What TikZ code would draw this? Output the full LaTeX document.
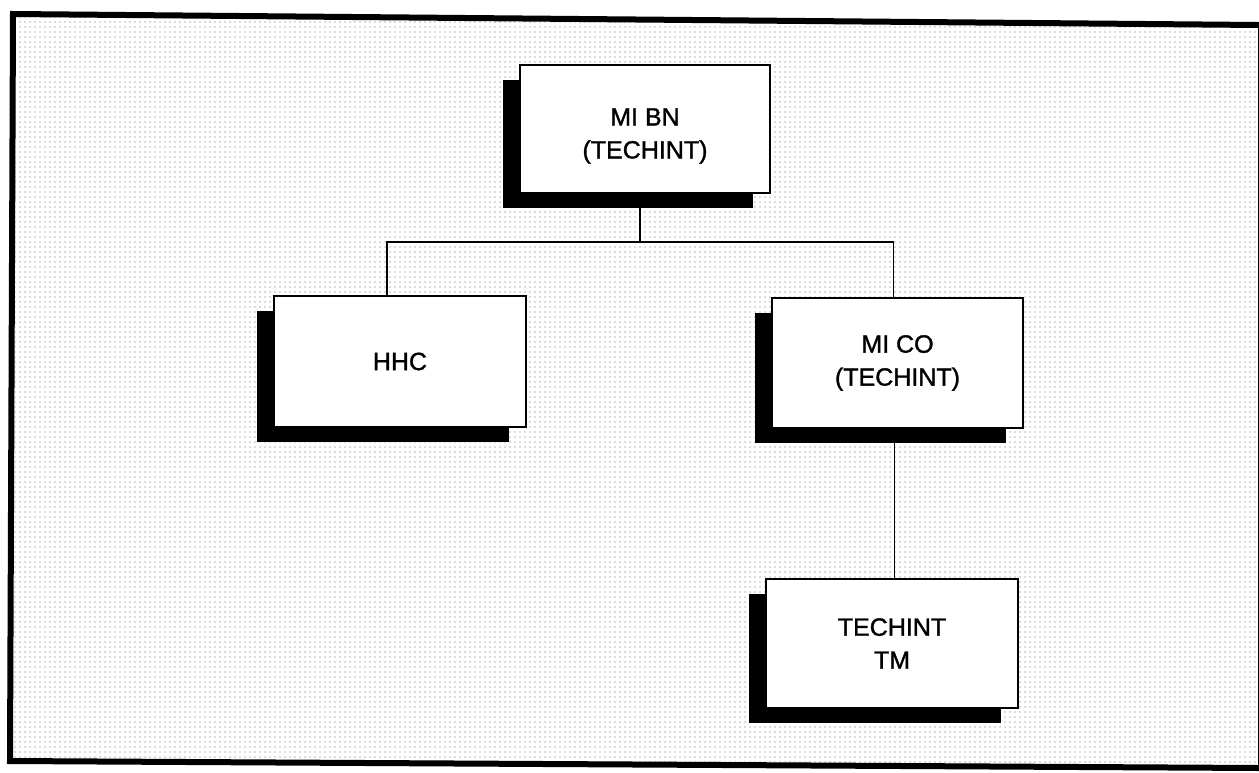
\documentclass[tikz,border=0pt]{standalone}
\usepackage{fontspec}
\setmainfont{Liberation Sans}
\newfontfamily\boxfont[FakeBold=1.3]{Liberation Sans}
\usetikzlibrary{patterns.meta,shadows}
\pgfdeclarelayer{back}
\pgfdeclarelayer{lines}
\pgfsetlayers{back,lines,main}
\tikzset{
  unitbox/.style={draw=black, line width=1.5pt, fill=white, align=center,
    font=\boxfont\fontsize{25}{33}\selectfont, inner sep=0pt,
    drop shadow={shadow xshift=-17pt, shadow yshift=-15pt, opacity=1, fill=black}},
  boxtext/.style={align=center, font=\boxfont\fontsize{25}{33}\selectfont, inner sep=0pt},
  conn/.style={draw=black, line width=1.5pt},
  frameline/.style={draw=black, line width=6pt}
}
\begin{document}
\begin{tikzpicture}[x=1pt,y=-1pt]
\useasboundingbox (0,0) rectangle (1259,772);
\begin{pgfonlayer}{back}
  \fill[white] (0,0) rectangle (1259,772);
  \path[pattern={Dots[distance=5pt, radius=0.55pt]}, pattern color=black!60]
    (13,14) -- (1259,25) -- (1259,768) -- (10,761) -- cycle;
  \draw[frameline] (1259,25) -- (13,14) -- (10,761) -- (1259,768);
  \draw[black, line width=1pt] (1258,25) -- (1258,768);
\end{pgfonlayer}

\node[unitbox, minimum width=250pt, minimum height=128pt] (mibn) at (645,129) {};
\node[boxtext] (mibntext) at ([yshift=-7pt]mibn.center) {MI BN\\(TECHINT)};
\node[unitbox, minimum width=252pt, minimum height=131pt] (hhc) at (400,361.5) {HHC};
\node[unitbox, minimum width=251pt, minimum height=130pt] (mico) at (897.5,363) {MI CO\\(TECHINT)};
\node[unitbox, minimum width=252pt, minimum height=129pt] (tm) at (892,643.5) {TECHINT\\TM};

\coordinate (j) at (640,242);
\begin{pgfonlayer}{lines}
  \draw[conn] ([xshift=-5pt]mibn.south) -- (j);
  \draw[conn] ([xshift=-13pt]hhc.north) -- ([xshift=-13pt]hhc.north |- j)
     -- ([xshift=-4pt]mico.north |- j) -- ([xshift=-4pt]mico.north);
  \draw[conn] ([xshift=-3pt]mico.south) -- ([xshift=-3pt]mico.south |- tm.north);
\end{pgfonlayer}
\end{tikzpicture}
\end{document}
